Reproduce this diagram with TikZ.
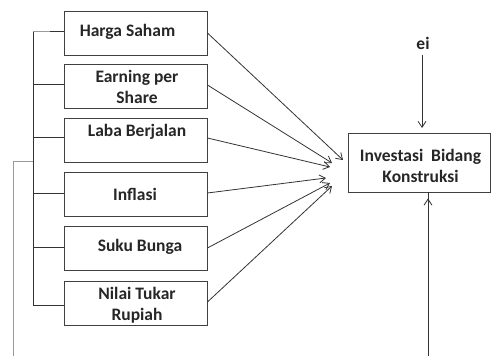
\documentclass[tikz,border=0pt]{standalone}
\usepackage{fontspec}
\setmainfont{Carlito}
\usetikzlibrary{arrows.meta}
\definecolor{ln}{HTML}{333333}
\definecolor{bx}{HTML}{404040}
\definecolor{lg}{HTML}{9A9A9A}
\tikzset{
  box/.style={draw=bx, line width=0.9pt, minimum width=143pt, minimum height=44pt, inner sep=0pt},
  lbl/.style={font=\fontsize{17.5}{21}\selectfont\bfseries, text=black!85, align=center, inner sep=0pt},
  arr/.style={draw=ln, line width=0.8pt, -{Straight Barb[length=6pt,width=8pt]}},
  brk/.style={draw=ln, line width=0.8pt},
}
\begin{document}
\begin{tikzpicture}[x=1pt,y=-1pt]
\useasboundingbox (0,0) rectangle (491,356);
% boxes
\node[box] (b1) at (135.5,33) {};
\node[box] (b2) at (135.5,86.5) {};
\node[box] (b3) at (135.5,140) {};
\node[box] (b4) at (135.5,194) {};
\node[box] (b5) at (135.5,248.5) {};
\node[box] (b6) at (135.5,303.5) {};
% texts
\node[lbl] (t1) at (127.5,32) {Harga Saham};
\node[lbl] (t2) at (137,87) {Earning per\\Share};
\node[lbl] (t3) at (137,132) {Laba Berjalan};
\node[lbl] (t4) at (135,194) {Inflasi};
\node[lbl] (t5) at (140,247) {Suku Bunga};
\node[lbl] (t6) at (137,305) {Nilai Tukar\\Rupiah};
% target
\node[box, minimum width=142pt, minimum height=59pt] (y) at (419.5,162.5) {};
\node[lbl] (ty) at (420.5,165.5) {Investasi\ \ Bidang\\Konstruksi};
\node[lbl] (ei) at (423,43) {ei};
\coordinate (e1) at (343,160);
\coordinate (e2) at (332,163);
\coordinate (e3) at (330,167);
\coordinate (e4) at (326,178);
\coordinate (e5) at (330,183);
\coordinate (e6) at (332,186);
\draw[arr] (b1.east |- 0,33) -- (e1);
\draw[arr] (b2.east |- 0,85) -- (e2);
\draw[arr] (b3.east |- 0,138) -- (e3);
\draw[arr] (b4.east |- 0,193) -- (e4);
\draw[arr] (b5.east |- 0,248) -- (e5);
\draw[arr] (b6.east |- 0,302) -- (e6);
\coordinate (eitop) at (422,55);
\draw[arr] (eitop) -- (422,128);
\coordinate (bot) at (428,356);
\draw[arr] (bot) -- (y.south -| 428,0) ++(0,6);
% bracket
\coordinate (k1) at (33,31);
\coordinate (k6) at (33,305);
\draw[brk] (k1) -- (k6);
\draw[draw=lg, line width=0.8pt] (k1) -- (50,31);
\draw[brk] (50,31) -- (b1.west |- 0,31);
\draw[brk] (33,84) -- (b2.west |- 0,84);
\draw[brk] (33,137) -- (b3.west |- 0,137);
\draw[brk] (33,193) -- (b4.west |- 0,193);
\draw[brk] (33,247) -- (b5.west |- 0,247);
\draw[brk] (33,305) -- (b6.west |- 0,305);
\draw[draw=lg, line width=0.8pt] (33,161) -- (13,161) -- (13,356);
\end{tikzpicture}
\end{document}
